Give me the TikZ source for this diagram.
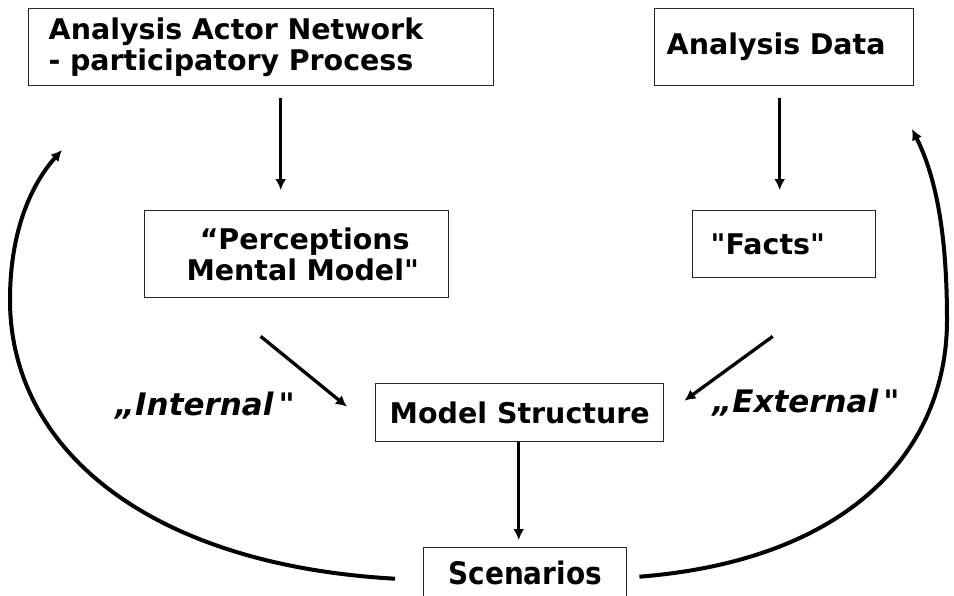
\documentclass[tikz,border=0pt]{standalone}
\usepackage{fontspec}
\setmainfont{DejaVu Sans}
\newfontfamily\condfont{DejaVu Sans Condensed}
\usepackage{tikz}
\usetikzlibrary{arrows.meta}

\begin{document}
\begin{tikzpicture}[x=1pt,y=-1pt,>={Latex[length=11pt,width=11pt]},
  box/.style={draw,line width=1.4pt,draw=black!85,inner ysep=0pt,font=\fontsize{28.5}{31}\selectfont\bfseries},
  arr/.style={->,line width=3.3pt},
  loop/.style={->,line width=4pt},
  tag/.style={font=\fontsize{31}{36}\selectfont\bfseries\itshape}]
\useasboundingbox (0,0) rectangle (954,595);
\node[box,anchor=north west,minimum height=77pt,inner xsep=20pt,text width=425pt,align=left] (anb) at (28,8) {Analysis Actor Network\\- participatory Process};
\node[box,anchor=north west,minimum height=77pt,inner xsep=12pt,text width=235pt,align=left] (ad) at (654,8) {Analysis Data};
\node[box,anchor=north west,minimum height=87pt,inner xsep=6pt,text width=292pt,align=center] (pmm) at (144,210) {\hspace*{16pt}“Perceptions\\\hspace*{12pt}Mental Model\textquotedbl};
\node[box,anchor=north west,minimum height=67pt,inner xsep=18pt,text width=147pt,align=left] (facts) at (692,210) {\textquotedbl Facts\textquotedbl};
\node[box,anchor=north west,minimum height=58pt,minimum width=288pt,inner xsep=2pt] (ms) at (375,383) {Model Structure};
\node[box,anchor=north west,minimum height=50pt,minimum width=203pt,font=\fontsize{31}{36}\selectfont\condfont\bfseries] (scen) at (423,547) {Scenarios};
\node[tag] (int) at (205,406) {„Internal\,\textquotedbl};
\node[tag] (ext) at (806,403) {„External\,\textquotedbl};
% straight arrows
\draw[arr] ([xshift=19.5pt,yshift=-12pt]anb.south) -- ([xshift=-16pt,yshift=20pt]pmm.north);
\draw[arr] ([xshift=-4.5pt,yshift=-12pt]ad.south) -- ([xshift=-4.5pt,yshift=20pt]facts.north);
\draw[arr] ([xshift=-36pt,yshift=-38pt]pmm.south) -- ([xshift=-28pt,yshift=6pt]ms.west);
\draw[arr] ([xshift=-11.5pt,yshift=-58pt]facts.south) -- ([xshift=20pt,yshift=12pt]ms.east);
\draw[arr] ([xshift=-1pt]ms.south) -- ([xshift=-6.5pt,yshift=7pt]scen.north);
% feedback loops
\draw[loop] ([xshift=-28pt,yshift=-6pt]scen.west) .. controls (150,565) and (10,450) .. (10,300) .. controls (10,225) and (35,180) .. (62,150);
\draw[loop] ([xshift=12pt,yshift=-4pt]scen.east) .. controls (850,560) and (947,450) .. (947,320) .. controls (947,230) and (935,175) .. (912,129);
\end{tikzpicture}
\end{document}
